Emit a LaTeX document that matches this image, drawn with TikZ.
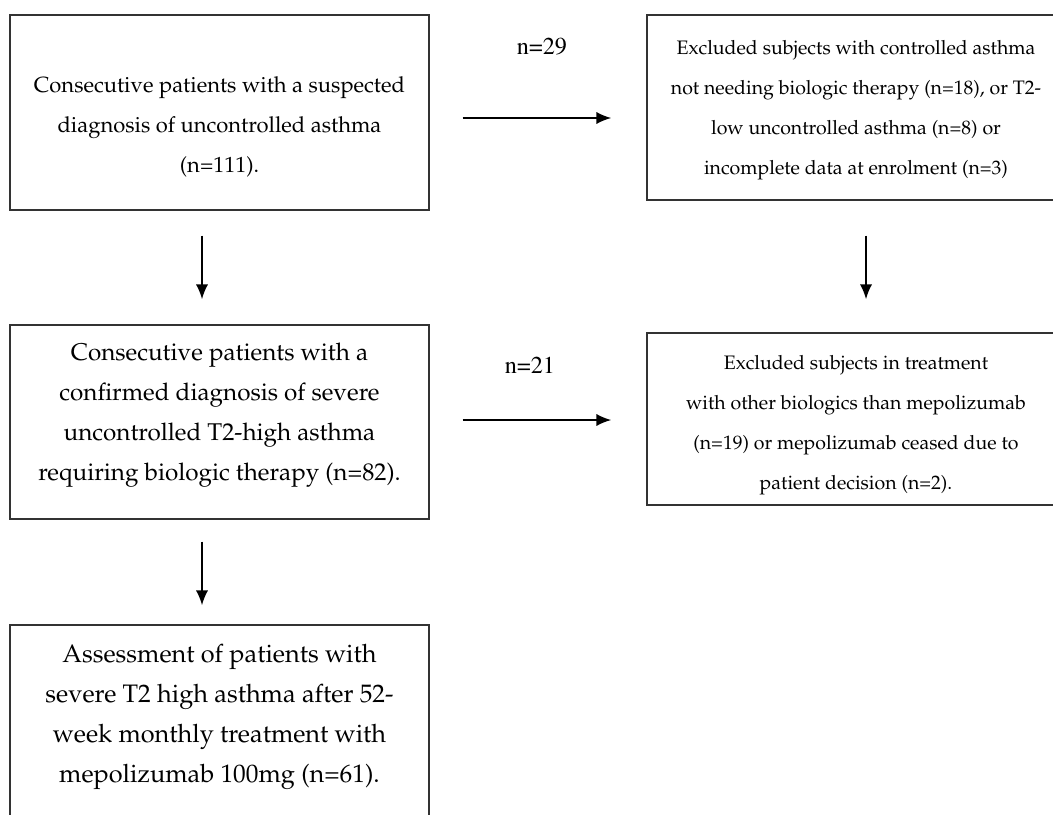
\documentclass[tikz,border=0pt]{standalone}
\usepackage[T1]{fontenc}
\usepackage{mathpazo}
\usetikzlibrary{arrows.meta,calc}

\tikzset{
  box/.style={draw=black!80, line width=0.8pt, minimum width=419*0.02cm},
  txt/.style={align=center, inner sep=0pt},
  lbl/.style={inner sep=0pt, font=\fontfamily{ptm}\fontsize{13.8}{15}\selectfont},
  arr/.style={->, line width=1.1pt}
}

\begin{document}
\begin{tikzpicture}[x=0.02cm,y=-0.02cm,>={Latex[length=8.5pt,width=7pt]}]
		\useasboundingbox (0,0) rectangle (1053,814);
		\clip (0,0) rectangle (1053,814);
		% Left column
		\node[box, minimum height=195*0.02cm] (a) at (219.5,112.5) {};
		\node[txt, font=\fontsize{12.5}{22.7}\selectfont] (aT) at (219.5,127) {Consecutive patients with a suspected\\diagnosis of uncontrolled asthma\\(n=111).};
		\node[box, minimum height=194*0.02cm] (c) at (219.5,422) {};
		\node[txt, font=\fontsize{13.8}{22.7}\selectfont] (cT) at (219.5,415) {Consecutive patients with a\\confirmed diagnosis of severe\\uncontrolled T2-high asthma\\requiring biologic therapy (n=82).};
		\node[box, minimum height=200*0.02cm] (e) at (219.5,725) {};
		\node[txt, font=\fontsize{14.4}{22.7}\selectfont] (eT) at (219.5,717) {Assessment of patients with\\severe T2 high asthma after 52-\\week monthly treatment with\\mepolizumab 100mg (n=61).};
		% Right column
		\node[box, minimum width=418*0.02cm, minimum height=185*0.02cm] (b) at (856,107.5) {};
		\node[txt, font=\fontsize{11.1}{22.7}\selectfont] (bT) at (856,110) {Excluded subjects with controlled asthma\\not needing biologic therapy (n=18), or T2-\\low uncontrolled asthma (n=8) or\\incomplete data at enrolment (n=3)};
		\node[box, minimum width=418*0.02cm, minimum height=172*0.02cm] (d) at (856,419) {};
		\node[txt, font=\fontsize{11.1}{22.7}\selectfont] (dT) at (856,425) {Excluded subjects in treatment\\with other biologics than mepolizumab\\(n=19) or mepolizumab ceased due to\\patient decision (n=2).};
		% Arrows
		\draw[arr] ($(a.east)+(33,5.5)$) -- ($(b.west)+(-35,10.5)$);
		\node[lbl] (n1) at (542,47) {n=29};
		\draw[arr] ($(c.east)+(33,-2)$) -- ($(d.west)+(-35,1)$);
		\node[lbl] (n2) at (530,365) {n=21};
		\draw[arr] ($(a.south)+(-17.5,25)$) -- ($(c.north)+(-17.5,-25)$);
		\draw[arr] ($(b.south)+(10,35)$) -- ($(d.north)+(10,-33)$);
		\draw[arr] ($(c.south)+(-17.5,22)$) -- ($(e.north)+(-17.5,-19)$);
	\end{tikzpicture}
\end{document}
